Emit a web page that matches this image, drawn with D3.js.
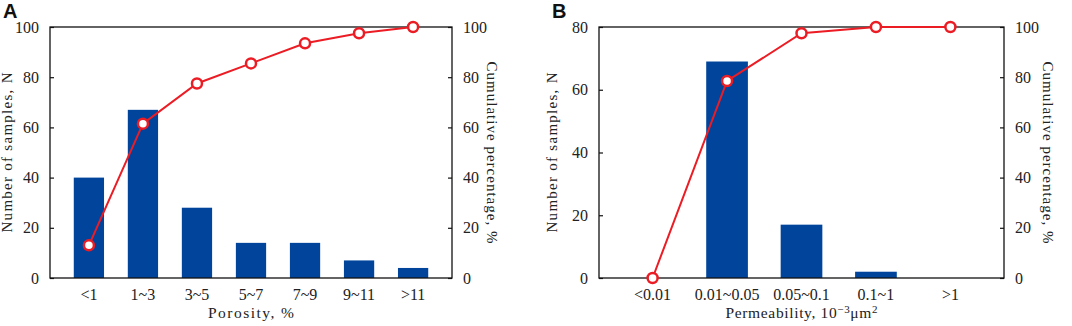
<!DOCTYPE html>
<html>
<head>
<meta charset="utf-8">
<script src="https://cdn.jsdelivr.net/npm/d3@7"></script>
<style>
  body { margin: 0; background: #fff; }
  text { font-family: "Liberation Serif", "DejaVu Serif", serif; fill: #222; }
</style>
</head>
<body>
<div id="chart"></div>
<script>
// panel A - porosity
let porosityBins = ["<1", "1~3", "3~5", "5~7", "7~9", "9~11", ">11"]
let porosityCounts = [40, 67, 28, 14, 14, 7, 4]
let porosityCumul = [13, 61.5, 77.5, 85.5, 93.5, 97.5, 100]

// panel B - permeability
let permBins = ["<0.01", "0.01~0.05", "0.05~0.1", "0.1~1", ">1"]
let permCounts = [0, 69, 17, 2, 0]
let permCumul = [0, 78.5, 97.5, 100, 100]

let leftTicksA = [0, 20, 40, 60, 80, 100]
let leftTicksB = [0, 20, 40, 60, 80]
let rightTicks = [0, 20, 40, 60, 80, 100]

let svg = d3.select("#chart").append("svg")
    .attr("width", 1072)
    .attr("height", 326)

function drawPanel(cfg){
    let { x0, x1, y0, y1, bins, counts, cumul, leftMax, leftTicks, letter, xTitle, xTitleLen, lOff, rOff } = cfg
    let g = svg.append("g")

    let xScale = d3.scaleBand().domain(bins).range([x0, x1]).padding(0.44)
    let yScale = d3.scaleLinear().domain([0, leftMax]).range([y1, y0])
    let y2Scale = d3.scaleLinear().domain([0, 100]).range([y1, y0])

    // bars
    g.selectAll(".bar")
        .data(bins)
        .enter()
        .append("rect")
        .attr("x", d => xScale(d))
        .attr("width", xScale.bandwidth())
        .attr("y", (d, i) => yScale(counts[i]))
        .attr("height", (d, i) => y1 - yScale(counts[i]))
        .style("fill", "#00449c")

    // frame
    g.append("rect")
        .attr("x", x0).attr("y", y0)
        .attr("width", x1 - x0).attr("height", y1 - y0)
        .style("fill", "none").style("stroke", "#111").style("stroke-width", 1.3)

    // axes
    let axisL = d3.axisLeft(yScale).tickValues(leftTicks).tickSize(-4).tickPadding(11)
    let gl = g.append("g").attr("transform", "translate(" + x0 + ",0)").call(axisL)
    let axisR = d3.axisRight(y2Scale).tickValues(rightTicks).tickSize(-4).tickPadding(11)
    let gr = g.append("g").attr("transform", "translate(" + x1 + ",0)").call(axisR)
    let axisB = d3.axisBottom(xScale).tickSize(0).tickPadding(11)
    let gb = g.append("g").attr("transform", "translate(0," + y1 + ")").call(axisB)
    ;[gl, gr, gb].forEach(a => {
        a.select(".domain").remove()
        a.selectAll("line").style("stroke", "#111").style("stroke-width", 1.2)
        a.selectAll("text").style("font-family", "Liberation Serif").style("font-size", "16px").style("fill", "#222")
    })

    // cumulative line
    let line = d3.line()
        .x((d, i) => xScale(bins[i]) + xScale.bandwidth() / 2)
        .y(d => y2Scale(d))
    g.append("path")
        .datum(cumul)
        .attr("d", line)
        .style("fill", "none")
        .style("stroke", "#ec1c24")
        .style("stroke-width", 2)
    g.selectAll(".dot")
        .data(cumul)
        .enter()
        .append("circle")
        .attr("cx", (d, i) => xScale(bins[i]) + xScale.bandwidth() / 2)
        .attr("cy", d => y2Scale(d))
        .attr("r", 5)
        .style("fill", "#fff")
        .style("stroke", "#ec1c24")
        .style("stroke-width", 2.5)

    // titles
    g.append("text")
        .attr("transform", "translate(" + (x0 - lOff) + "," + ((y0 + y1) / 2) + ") rotate(-90)")
        .attr("text-anchor", "middle")
        .attr("textLength", 160)
        .attr("lengthAdjust", "spacing")
        .style("font-size", "15px")
        .text("Number of samples, N")
    g.append("text")
        .attr("transform", "translate(" + (x1 + rOff) + "," + ((y0 + y1) / 2) + ") rotate(90)")
        .attr("text-anchor", "middle")
        .attr("textLength", 182)
        .attr("lengthAdjust", "spacing")
        .style("font-size", "15px")
        .text("Cumulative percentage, %")
    g.append("text")
        .attr("x", (x0 + x1) / 2)
        .attr("y", 318)
        .attr("text-anchor", "middle")
        .attr("textLength", xTitleLen)
        .attr("lengthAdjust", "spacing")
        .style("font-size", "15.5px")
        .html(xTitle)
    g.append("text")
        .attr("x", x0 - 47)
        .attr("y", 18)
        .style("font-family", "Liberation Sans, Arial, sans-serif")
        .style("font-weight", "bold")
        .style("font-size", "20px")
        .style("fill", "#111")
        .text(letter)
}

drawPanel({ x0: 50, x1: 452, y0: 27, y1: 278, bins: porosityBins, counts: porosityCounts,
    cumul: porosityCumul, leftMax: 100, leftTicks: leftTicksA, letter: "A",
    xTitle: "Porosity, %", xTitleLen: 86, lOff: 38, rOff: 35 })
drawPanel({ x0: 599, x1: 1004, y0: 27, y1: 278, bins: permBins, counts: permCounts,
    cumul: permCumul, leftMax: 80, leftTicks: leftTicksB, letter: "B", xTitleLen: 152, lOff: 42, rOff: 39,
    xTitle: "Permeability, 10<tspan dy='-5' font-size='11'>\u22123</tspan><tspan dy='5'>\u03bcm</tspan><tspan dy='-5' font-size='11'>2</tspan>" })
</script>
</body>
</html>
